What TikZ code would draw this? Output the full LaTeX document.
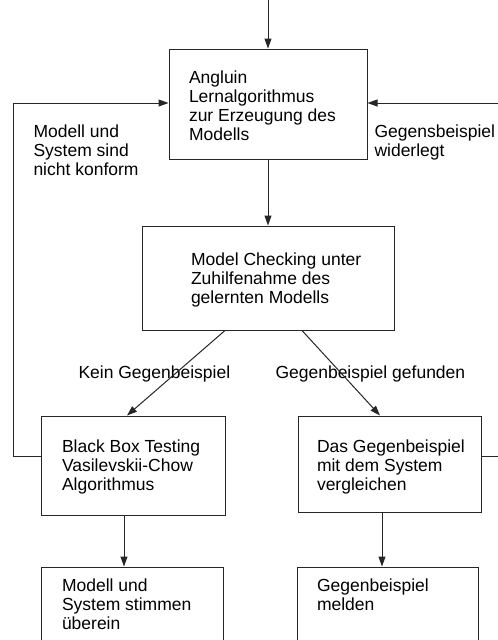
\documentclass[tikz,border=0pt]{standalone}
\usepackage{fontspec}
\setmainfont{Liberation Sans}
\usetikzlibrary{arrows.meta}

\tikzset{
  box/.style={rectangle, draw=black!85, inner sep=0pt, font=\fontsize{17.5}{19}\selectfont},
  note/.style={inner sep=0pt, anchor=base west, font=\fontsize{17.5}{19}\selectfont},
  conn/.style={->, draw=black!85},
}

\begin{document}
\begin{tikzpicture}[>={Triangle[length=10pt,width=7pt]}, x=1pt, y=-1pt, line width=1pt]
\clip (0,0) rectangle (498,640);

\node[box, minimum height=110pt] (angluin) at (268,104)
{\begin{tabular}{@{\hspace{20pt}}p{178pt}@{}}
 \rule{0pt}{20.7pt}Angluin\\
 Lernalgorithmus\\
 zur Erzeugung des\\
 Modells
\end{tabular}};

\node[box, minimum height=104pt, node distance=174pt, below of=angluin] (check)
{\begin{tabular}{@{\hspace{49pt}}p{203pt}@{}}
 \rule{0pt}{17.7pt}Model Checking unter\\
 Zuhilfenahme des\\
 gelernten Modells
\end{tabular}};

\node[box, minimum height=99pt, node distance=187.5pt, below of=check, xshift=-135pt] (blackbox)
{\begin{tabular}{@{\hspace{21pt}}p{163pt}@{}}
 \rule{0pt}{16.7pt}Black Box Testing\\
 Vasilevskii-Chow\\
 Algorithmus
\end{tabular}};

\node[box, minimum height=96pt, node distance=186pt, below of=check, xshift=121.5pt] (compare)
{\begin{tabular}{@{\hspace{19pt}}p{164pt}@{}}
 \rule{0pt}{19.7pt}Das Gegenbeispiel\\
 mit dem System\\
 vergleichen
\end{tabular}};

\node[box, minimum height=80pt, node distance=141.5pt, below of=blackbox, xshift=-1pt] (conform)
{\begin{tabular}{@{\hspace{21pt}}p{161pt}@{}}
 Modell und\\
 System stimmen\\
 \"uberein
\end{tabular}};

\node[box, minimum height=80pt, node distance=143pt, below of=compare, xshift=-2pt] (report)
{\begin{tabular}{@{\hspace{20pt}}p{161pt}@{}}
 Gegenbeispiel\\
 melden\\
 \\
\end{tabular}};

% labels
\node[note] (notconform) at (33,137.5)
{\begin{tabular}[t]{@{}l@{}}Modell und\\ System sind\\ nicht konform\end{tabular}};
\node[note] (refuted) at (374,137.5)
{\begin{tabular}[t]{@{}l@{}}Gegensbeispiel\\ widerlegt\end{tabular}};
\node[note] (nocex) at (78,378) {Kein Gegenbeispiel};
\node[note] (cexfound) at (275,378) {Gegenbeispiel gefunden};

\coordinate (start) at (268,0);
\coordinate (leftline) at (13,0);
\coordinate (rightline) at (506,0);

\draw[conn] (start) -- (angluin);
\draw[conn] (angluin) -- (check);
\draw[conn] ([xshift=-43pt]check.south) -- ([xshift=-6pt]blackbox.north);
\draw[conn] ([xshift=34pt]check.south) -- ([xshift=-9.5pt]compare.north);
\draw[conn] ([xshift=-9pt]blackbox.south) -- ([xshift=-9pt]blackbox.south |- conform.north);
\draw[conn] ([xshift=-7.5pt]compare.south) -- ([xshift=-7.5pt]compare.south |- report.north);
\draw[conn] ([yshift=9.5pt]blackbox.west) -- ([yshift=9.5pt]blackbox.west -| leftline)
  |- ([yshift=1pt]angluin.west);
\draw[conn] ([yshift=8pt]compare.east) -- ([yshift=8pt]compare.east -| rightline)
  |- ([yshift=1pt]angluin.east);
\end{tikzpicture}
\end{document}
